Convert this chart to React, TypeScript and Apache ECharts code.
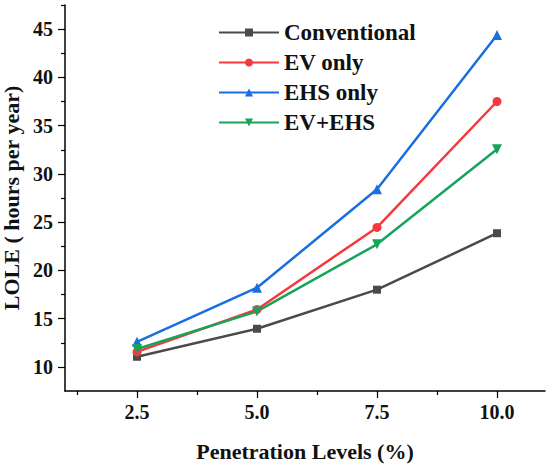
import React, { useEffect, useRef } from "react";
import * as echarts from "echarts";

const levels = [2.5, 5.0, 7.5, 10.0];
const conventional = [11.05, 13.95, 18.0, 23.85];
const evOnly = [11.55, 15.95, 24.45, 37.5];
const ehsOnly = [12.6, 18.2, 28.4, 44.4];
const evEhs = [11.85, 15.75, 22.7, 32.55];
const seriesNames = ["Conventional", "EV only", "EHS only", "EV+EHS"];
const xMajor = [2.5, 5.0, 7.5, 10.0];
const xMinor = [1.25, 3.75, 6.25, 8.75];
const yMajor = [10, 15, 20, 25, 30, 35, 40, 45];
const yMinor = [12.5, 17.5, 22.5, 27.5, 32.5, 37.5, 42.5, 47.5];

const FONT = "Liberation Serif";

export default function App() {
  const ref = useRef<HTMLDivElement>(null);
  useEffect(() => {
    document.body.style.margin = "0";
    const chart = echarts.init(ref.current!, null, { renderer: "svg" });
    const pair = (ys: number[]) => levels.map((x, i) => [x, ys[i]]);
    const lineStyleW = 2.5;
    const axisCommon = {
      min: 7.5,
      max: 47.5,
      splitLine: { show: false },
    };
    chart.setOption({
      animation: false,
      backgroundColor: "#ffffff",
      textStyle: { fontFamily: FONT },
      grid: { left: 65, right: 5, top: 5, bottom: 75, containLabel: false, outerBoundsMode: "none" },
      legend: {
        orient: "vertical",
        left: 213,
        top: 16,
        itemWidth: 60,
        itemHeight: 10,
        itemGap: 7,
        textStyle: { fontFamily: FONT, fontWeight: "bold", fontSize: 23, color: "#111" },
        data: seriesNames,
      },
      xAxis: [
        {
          type: "value",
          min: 1,
          max: 11,
          splitLine: { show: false },
          axisLine: { show: true, onZero: false, lineStyle: { color: "#000", width: 1.5 } },
          axisTick: { show: true, length: 7, customValues: xMajor, lineStyle: { color: "#000", width: 1.2 } },
          axisLabel: {
            customValues: xMajor,
            formatter: (v: number) => v.toFixed(1),
            fontFamily: FONT,
            fontWeight: "bold",
            fontSize: 20,
            color: "#111",
            margin: 11,
          },
          name: "Penetration Levels (%)",
          nameLocation: "middle",
          nameGap: 49,
          nameTextStyle: { fontFamily: FONT, fontWeight: "bold", fontSize: 22, color: "#111" },
        },
        {
          type: "value",
          min: 1,
          max: 11,
          position: "bottom",
          splitLine: { show: false },
          axisLine: { show: false, onZero: false },
          axisTick: { show: true, length: 4, customValues: xMinor, lineStyle: { color: "#000", width: 1.2 } },
          axisLabel: { show: false },
        },
      ],
      yAxis: [
        {
          type: "value",
          ...axisCommon,
          axisLine: { show: true, onZero: false, lineStyle: { color: "#000", width: 1.5 } },
          axisTick: { show: true, length: 7, customValues: yMajor, lineStyle: { color: "#000", width: 1.2 } },
          axisLabel: {
            customValues: yMajor,
            fontFamily: FONT,
            fontWeight: "bold",
            fontSize: 20,
            color: "#111",
            margin: 12,
          },
          name: "LOLE ( hours per year)",
          nameLocation: "middle",
          nameGap: 43,
          nameTextStyle: { fontFamily: FONT, fontWeight: "bold", fontSize: 22, color: "#111" },
        },
        {
          type: "value",
          ...axisCommon,
          position: "left",
          axisLine: { show: false, onZero: false },
          axisTick: { show: true, length: 4, customValues: yMinor, lineStyle: { color: "#000", width: 1.2 } },
          axisLabel: { show: false },
        },
      ],
      series: [
        {
          name: seriesNames[0],
          type: "line",
          data: pair(conventional),
          symbol: "rect",
          symbolSize: 8,
          color: "#4a4a4a",
          lineStyle: { width: lineStyleW, color: "#4a4a4a" },
          itemStyle: { color: "#4a4a4a" },
        },
        {
          name: seriesNames[1],
          type: "line",
          data: pair(evOnly),
          symbol: "circle",
          symbolSize: 9,
          color: "#f5393d",
          lineStyle: { width: lineStyleW, color: "#f5393d" },
          itemStyle: { color: "#f5393d" },
        },
        {
          name: seriesNames[2],
          type: "line",
          data: pair(ehsOnly),
          symbol: "triangle",
          symbolSize: 10,
          color: "#1a6fe0",
          lineStyle: { width: lineStyleW, color: "#1a6fe0" },
          itemStyle: { color: "#1a6fe0" },
        },
        {
          name: seriesNames[3],
          type: "line",
          data: pair(evEhs),
          symbol: "triangle",
          symbolRotate: 180,
          symbolSize: 10,
          color: "#17a35a",
          lineStyle: { width: lineStyleW, color: "#17a35a" },
          itemStyle: { color: "#17a35a" },
        },
      ],
    });
    return () => chart.dispose();
  }, []);
  return <div ref={ref} style={{ width: 550, height: 466 }} />;
}
